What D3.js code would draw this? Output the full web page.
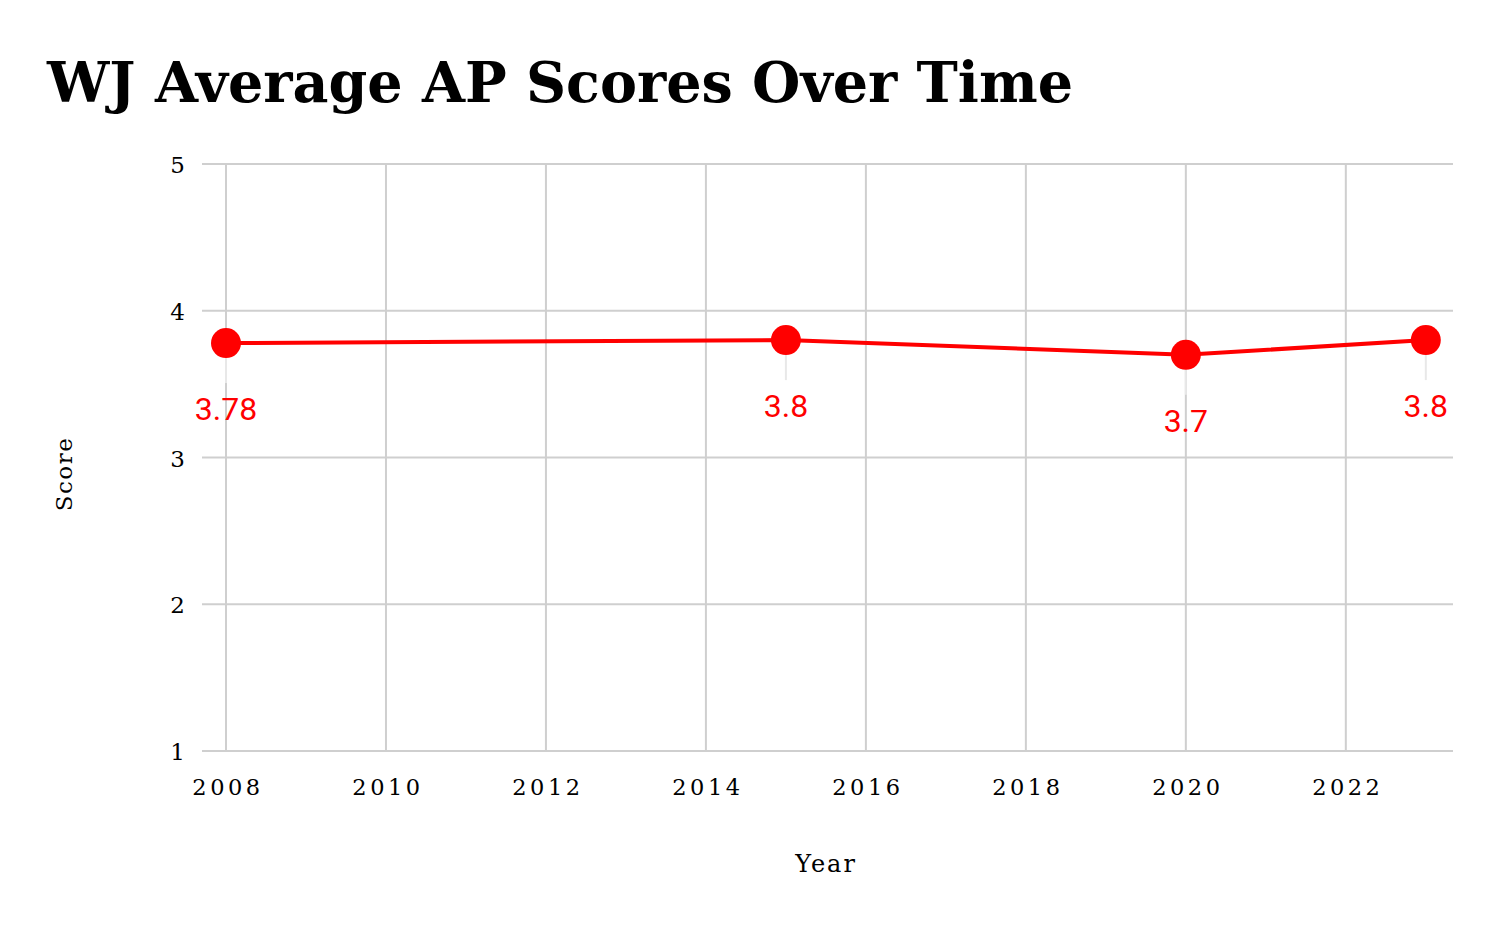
<!DOCTYPE html>
<html>
<head>
<meta charset="utf-8">
<script src="https://cdn.jsdelivr.net/npm/d3@7"></script>
<style>
  body { margin: 0; background: #fff; }
  svg { display: block; }
</style>
</head>
<body>
<div id="chart"></div>
<script>
// data
const years = [2008, 2015, 2020, 2023];
const scores = [3.78, 3.8, 3.7, 3.8];
const labels = ["3.78", "3.8", "3.7", "3.8"];
const xTicks = [2008, 2010, 2012, 2014, 2016, 2018, 2020, 2022];
const yTicks = [1, 2, 3, 4, 5];

const width = 1500;
const height = 928;
const margin = { top: 164, right: 47, bottom: 177, left: 202 };

const svg = d3.select("#chart").append("svg")
    .attr("width", width)
    .attr("height", height);

const x = d3.scaleLinear()
    .domain([2007.7, 2023.34])
    .range([margin.left, width - margin.right]);

const y = d3.scaleLinear()
    .domain([1, 5])
    .range([height - margin.bottom, margin.top]);

const serif = "'DejaVu Serif', serif";

// title
svg.append("text")
    .attr("x", 47)
    .attr("y", 102)
    .attr("font-family", serif)
    .attr("font-weight", "bold")
    .attr("font-size", 55.5)
    .attr("fill", "#000")
    .text("WJ Average AP Scores Over Time");

// grid
svg.append("g")
    .selectAll("line")
    .data(yTicks)
    .enter().append("line")
    .attr("x1", x.range()[0])
    .attr("x2", x.range()[1])
    .attr("y1", d => y(d))
    .attr("y2", d => y(d))
    .attr("stroke", "#cfcfcf")
    .attr("stroke-width", 2);

svg.append("g")
    .selectAll("line")
    .data(xTicks)
    .enter().append("line")
    .attr("x1", d => x(d))
    .attr("x2", d => x(d))
    .attr("y1", y.range()[0])
    .attr("y2", y.range()[1])
    .attr("stroke", "#cfcfcf")
    .attr("stroke-width", 2);

// tick labels
svg.append("g")
    .selectAll("text")
    .data(yTicks)
    .enter().append("text")
    .attr("x", 185)
    .attr("y", d => y(d) + 9)
    .attr("text-anchor", "end")
    .attr("font-family", serif)
    .attr("font-size", 23)
    .attr("fill", "#000")
    .text(d => d);

svg.append("g")
    .selectAll("text")
    .data(xTicks)
    .enter().append("text")
    .attr("x", d => x(d) + 2)
    .attr("y", 795)
    .attr("text-anchor", "middle")
    .attr("font-family", serif)
    .attr("font-size", 22.5)
    .attr("letter-spacing", 3.5)
    .attr("fill", "#000")
    .text(d => d);

// axis titles
svg.append("text")
    .attr("x", 826)
    .attr("y", 872)
    .attr("text-anchor", "middle")
    .attr("font-family", serif)
    .attr("font-size", 24)
    .attr("letter-spacing", 2)
    .text("Year");

svg.append("text")
    .attr("transform", "translate(72,474) rotate(-90)")
    .attr("text-anchor", "middle")
    .attr("font-family", serif)
    .attr("font-size", 23)
    .attr("letter-spacing", 1.5)
    .text("Score");

const points = years.map((d, i) => ({ year: d, score: scores[i], label: labels[i] }));

// leader lines under each point
svg.append("g")
    .selectAll("line")
    .data(points)
    .enter().append("line")
    .attr("x1", d => x(d.year))
    .attr("x2", d => x(d.year))
    .attr("y1", d => y(d.score) + 14)
    .attr("y2", d => y(d.score) + 40)
    .attr("stroke", "#e8e8e8")
    .attr("stroke-width", 2);

// line
const line = d3.line()
    .x(d => x(d.year))
    .y(d => y(d.score));

svg.append("path")
    .datum(points)
    .attr("d", line)
    .attr("fill", "none")
    .attr("stroke", "#ff0000")
    .attr("stroke-width", 4);

svg.append("g")
    .selectAll("circle")
    .data(points)
    .enter().append("circle")
    .attr("cx", d => x(d.year))
    .attr("cy", d => y(d.score))
    .attr("r", 15)
    .attr("fill", "#ff0000");

// value labels
svg.append("g")
    .selectAll("text")
    .data(points)
    .enter().append("text")
    .attr("x", d => x(d.year))
    .attr("y", d => y(d.score) + 77)
    .attr("text-anchor", "middle")
    .attr("font-family", "Roboto, sans-serif")
    .attr("font-size", 32)
    .attr("fill", "#ff0000")
    .text(d => d.label);
</script>
</body>
</html>
